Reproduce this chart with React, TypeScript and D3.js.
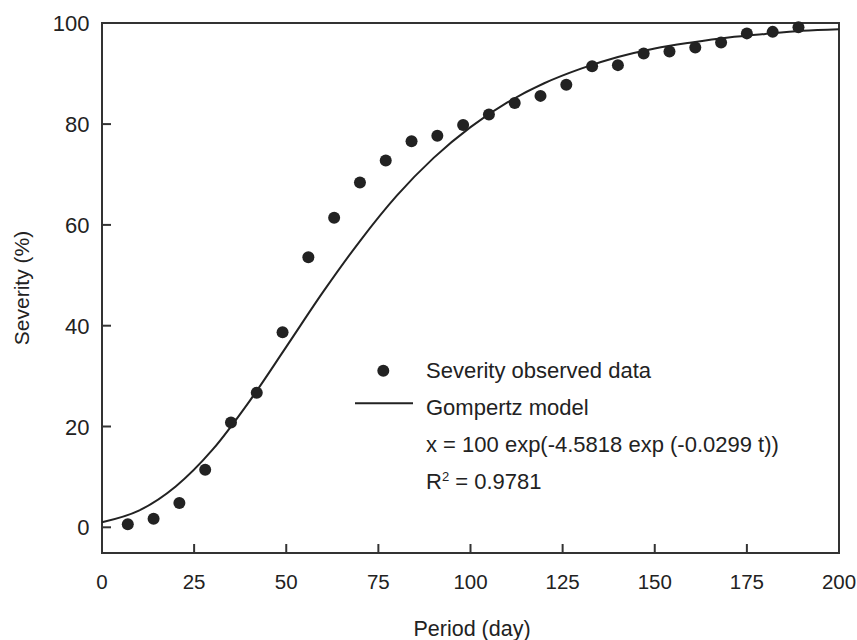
import { useEffect } from "react";
import * as d3 from "d3";

// observed severity, sampled every 7 days
const obsDays = [7, 14, 21, 28, 35, 42, 49, 56, 63, 70, 77, 84, 91, 98, 105, 112, 119, 126, 133, 140, 147, 154, 161, 168, 175, 182, 189];
const obsSeverity = [0.6, 1.7, 4.8, 11.4, 20.8, 26.7, 38.7, 53.6, 61.4, 68.4, 72.8, 76.6, 77.7, 79.8, 81.9, 84.2, 85.6, 87.8, 91.5, 91.7, 94.0, 94.4, 95.2, 96.2, 98.0, 98.3, 99.2];

// Gompertz model curve
const modelDays = [0, 10, 20, 30, 40, 50, 60, 70, 80, 90, 100, 110, 120, 130, 140, 150, 160, 170, 180, 190, 200];
const modelSeverity = [1.0, 3.3, 8.1, 15.4, 25.0, 35.8, 46.7, 56.8, 65.8, 73.3, 79.4, 84.3, 88.1, 91.0, 93.3, 95.0, 96.2, 97.2, 97.9, 98.5, 98.8];

const xTicks = [0, 25, 50, 75, 100, 125, 150, 175, 200];
const yTicks = [0, 20, 40, 60, 80, 100];

const legendLines = [
  "Severity observed data",
  "Gompertz model",
  "x = 100 exp(-4.5818 exp (-0.0299 t))",
];

const W = 857;
const H = 640;
const left = 102;
const right = 839;
const top = 23;
const bottom = 553;
const ink = "#222";
const font = "'Liberation Sans', Arial, sans-serif";

export default function App() {
  useEffect(() => {
    document.body.style.margin = "0";
  }, []);

  const x = d3.scaleLinear().domain([0, 200]).range([left, right]);
  const y = d3.scaleLinear().domain([0, 100]).range([527.3, 23.3]);

  const line = d3
    .line<number>()
    .x((_, i) => x(modelDays[i]))
    .y((d) => y(d))
    .curve(d3.curveMonotoneX);

  const legX = 426;
  const legY = 377.7;
  const legStep = 37;

  return (
    <svg width={W} height={H} style={{ display: "block", background: "#fff" }} fontFamily={font}>
      {/* frame */}
      <rect x={left} y={top} width={right - left} height={bottom - top} fill="none" stroke="#333" strokeWidth={2} />

      {/* x ticks */}
      {xTicks.map((t) => (
        <g key={"x" + t}>
          {t > 0 && t < 200 && (
            <line x1={x(t)} x2={x(t)} y1={bottom} y2={bottom - 9} stroke="#333" strokeWidth={2} />
          )}
          <text x={x(t)} y={589} textAnchor="middle" fontSize={20.5} fill={ink}>
            {t}
          </text>
        </g>
      ))}

      {/* y ticks */}
      {yTicks.map((t) => (
        <g key={"y" + t}>
          {t < 100 && <line x1={left} x2={left + 9} y1={y(t)} y2={y(t)} stroke="#333" strokeWidth={2} />}
          <text x={89.5} y={y(t) + 8} textAnchor="end" fontSize={22} fill={ink}>
            {t}
          </text>
        </g>
      ))}

      {/* axis titles */}
      <text x={472} y={636} textAnchor="middle" fontSize={21.5} fill={ink}>
        Period (day)
      </text>
      <text
        transform={`translate(29,288) rotate(-90)`}
        textAnchor="middle"
        fontSize={21}
        fill={ink}
      >
        Severity (%)
      </text>

      {/* model curve */}
      <path d={line(modelSeverity) || ""} fill="none" stroke={ink} strokeWidth={2} />

      {/* observed points */}
      {obsDays.map((d, i) => (
        <circle key={d} cx={x(d)} cy={y(obsSeverity[i])} r={6} fill={ink} />
      ))}

      {/* legend */}
      <circle cx={383.3} cy={370.7} r={6} fill={ink} />
      <line x1={355} x2={413} y1={403.3} y2={403.3} stroke={ink} strokeWidth={2} />
      {legendLines.map((s, i) => (
        <text key={s} x={legX} y={legY + i * legStep} fontSize={22} fill={ink}>
          {s}
        </text>
      ))}
      <text x={legX} y={legY + 3 * legStep} fontSize={22} fill={ink}>
        R<tspan dy={-8} fontSize={13}>2</tspan>
        <tspan dy={8}> = 0.9781</tspan>
      </text>
    </svg>
  );
}
